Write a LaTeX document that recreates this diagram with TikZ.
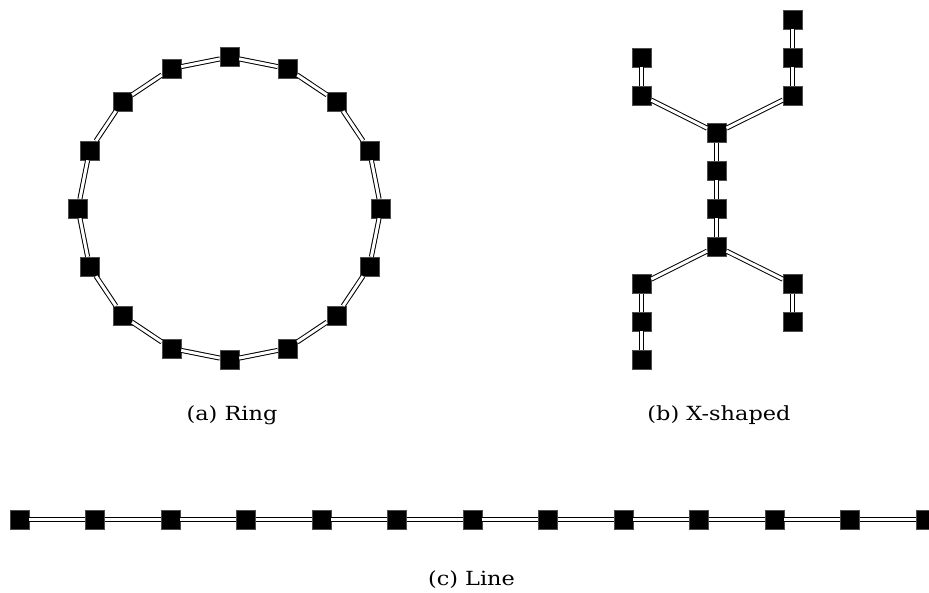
\documentclass[tikz,border=0pt]{standalone}
\usepackage{fontspec}
\newfontfamily\capfont{DejaVu Serif}[FakeStretch=1.15]
\begin{document}
\begin{tikzpicture}[x=1pt,y=-1pt,
  sq/.style={rectangle,fill=black,draw=black!70,line width=0.4pt,minimum size=19pt,inner sep=0pt},
  bond/.style={draw=black,line width=1pt,double=white,double distance=3pt},
  captext/.style={font=\capfont\fontsize{19.5}{23}\selectfont,inner sep=0pt,anchor=base}]
\useasboundingbox (0,0) rectangle (929,592);
% Ring
\foreach \i in {0,...,15}{
  \node[sq] (r\i) at ({229.5+151.5*sin(22.5*\i)},{208.5-151.5*cos(22.5*\i)}) {};
}
\foreach \i [evaluate=\i as \j using {int(mod(\i+1,16))}] in {0,...,15}{
  \draw[bond] (r\i) -- (r\j);
}
% X-shaped
\node[sq] (c1) at (716.8,133) {};
\node[sq] (c2) at (716.8,170.75) {};
\node[sq] (c3) at (716.8,208.5) {};
\node[sq] (c4) at (716.8,246.25) {};
\node[sq] (ul1) at (641.5,57.5) {};
\node[sq] (ul2) at (641.5,95.25) {};
\node[sq] (ur1) at (792.5,19.75) {};
\node[sq] (ur2) at (792.5,57.5) {};
\node[sq] (ur3) at (792.5,95.25) {};
\node[sq] (ll1) at (641.5,284) {};
\node[sq] (ll2) at (641.5,321.75) {};
\node[sq] (ll3) at (641.5,359.5) {};
\node[sq] (lr1) at (792.5,284) {};
\node[sq] (lr2) at (792.5,321.75) {};
\draw[bond] (c1) -- (c2);
\draw[bond] (c2) -- (c3);
\draw[bond] (c3) -- (c4);
\draw[bond] (c1) -- (ul2);
\draw[bond] (ul2) -- (ul1);
\draw[bond] (c1) -- (ur3);
\draw[bond] (ur3) -- (ur2);
\draw[bond] (ur2) -- (ur1);
\draw[bond] (c4) -- (ll1);
\draw[bond] (ll1) -- (ll2);
\draw[bond] (ll2) -- (ll3);
\draw[bond] (c4) -- (lr1);
\draw[bond] (lr1) -- (lr2);
% Line
\foreach \i in {0,...,12}{
  \node[sq] (l\i) at ({19.5+75.5*\i},519.5) {};
}
\foreach \i [evaluate=\i as \j using {int(\i+1)}] in {0,...,11}{
  \draw[bond] (l\i) -- (l\j);
}
% Captions
\node[captext] (capa) at (232,420.5) {(a) Ring};
\node[captext] (capb) at (719,420.5) {(b) X-shaped};
\node[captext] (capc) at (471.5,585) {(c) Line};
\end{tikzpicture}
\end{document}
